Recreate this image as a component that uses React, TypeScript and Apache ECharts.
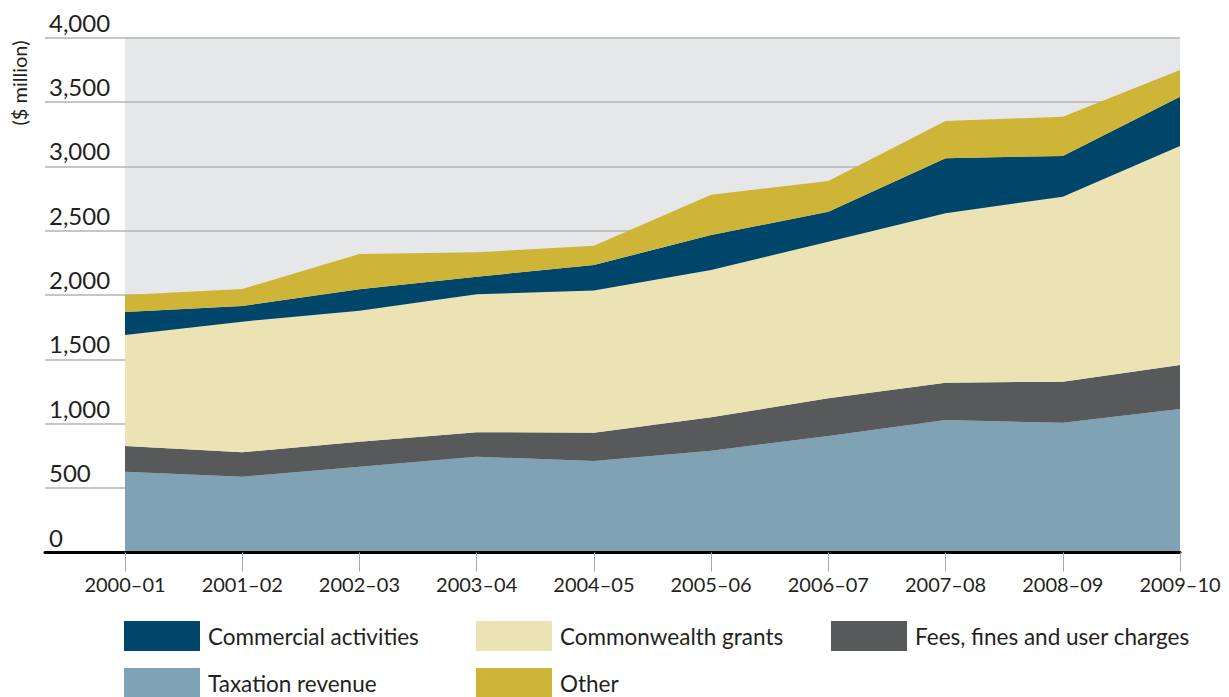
import React, { useEffect, useRef } from "react";
import * as echarts from "echarts";

const categories = ["2000–01", "2001–02", "2002–03", "2003–04", "2004–05", "2005–06", "2006–07", "2007–08", "2008–09", "2009–10"];
const taxation = [627, 589, 666, 744, 711, 791, 905, 1029, 1008, 1115];
const fees = [200, 189, 195, 190, 220, 259, 293, 290, 319, 341];
const grants = [862, 1015, 1017, 1071, 1103, 1144, 1216, 1316, 1437, 1701];
const commercial = [179, 122, 166, 137, 199, 272, 233, 427, 316, 383];
const other = [132, 132, 274, 190, 150, 313, 238, 289, 305, 208];
const yTicks = [0, 500, 1000, 1500, 2000, 2500, 3000, 3500, 4000];

const FONT = "Lato";
const TEXT = "#231f20";

export default function App() {
  const ref = useRef<HTMLDivElement>(null);
  useEffect(() => {
    if (!ref.current) return;
    const chart = echarts.init(ref.current, undefined, { renderer: "svg" });
    const top = 37.5;
    const bottom = 144.5;
    const yMin = yTicks[0];
    const yMax = yTicks[yTicks.length - 1];
    const yInt = yTicks[1] - yTicks[0];
    const mkSeries = (name: string, data: number[], color: string) => ({
      name,
      type: "line",
      stack: "total",
      data,
      symbol: "none",
      lineStyle: { width: 0 },
      areaStyle: { color, opacity: 1 },
      itemStyle: { color },
      xAxisIndex: 0,
      yAxisIndex: 0,
    });
    const legendItem = (name: string, left: number, topPos: number) => ({
      data: [name],
      left,
      top: topPos,
      icon: "rect",
      itemWidth: 76,
      itemHeight: 30,
      selectedMode: false,
      padding: 0,
      textStyle: { fontFamily: FONT, fontSize: 22.5, color: TEXT, padding: [0, 0, 0, 3] },
    });
    chart.setOption({
      animation: false,
      textStyle: { fontFamily: FONT },
      grid: [
        { left: 125, right: 49, top, bottom, show: true, backgroundColor: "#e6e7e9", borderWidth: 0 },
        { left: 45, width: 80, top, bottom, show: false },
      ],
      xAxis: [
        {
          type: "category",
          gridIndex: 0,
          data: categories,
          boundaryGap: false,
          axisLine: { show: true, lineStyle: { color: "#000", width: 3 } },
          axisTick: { show: true, length: 19, lineStyle: { color: "#a7a9ac", width: 1 } },
          axisLabel: { fontFamily: FONT, fontSize: 20, color: TEXT, margin: 21 },
          splitLine: { show: false },
          z: 5,
        },
        {
          type: "value",
          gridIndex: 1,
          min: 0,
          max: 1,
          axisLine: { show: true, onZero: false, lineStyle: { color: "#000", width: 3 } },
          axisTick: { show: false },
          axisLabel: { show: false },
          splitLine: { show: false },
          z: 5,
        },
      ],
      yAxis: [
        {
          type: "value",
          gridIndex: 0,
          min: yMin,
          max: yMax,
          interval: yInt,
          axisLine: { show: false },
          axisTick: { show: false },
          axisLabel: { show: false },
          splitLine: { show: true, lineStyle: { color: "#b1b3b6", width: 1.5 } },
        },
        {
          type: "value",
          gridIndex: 1,
          min: yMin,
          max: yMax,
          interval: yInt,
          axisLine: { show: false },
          axisTick: { show: false },
          axisLabel: {
            fontFamily: FONT,
            fontSize: 24,
            color: TEXT,
            align: "left",
            margin: -4,
            verticalAlign: "bottom",
            lineHeight: 31,
            formatter: (v: number) => v.toLocaleString("en-US"),
          },
          splitLine: { show: true, lineStyle: { color: "#b1b3b6", width: 1.5 } },
        },
      ],
      legend: [
        legendItem("Commercial activities", 124, 621),
        legendItem("Commonwealth grants", 476, 621),
        legendItem("Fees, fines and user charges", 831, 621),
        legendItem("Taxation revenue", 124, 668),
        legendItem("Other", 476, 668),
      ],
      graphic: [
        {
          type: "text",
          x: 19,
          y: 83,
          rotation: Math.PI / 2,
          style: {
            text: "($ million)",
            fontFamily: FONT,
            fontSize: 20,
            fill: TEXT,
            align: "center",
            verticalAlign: "middle",
          },
        },
      ],
      series: [
        mkSeries("Taxation revenue", taxation, "#7fa2b5"),
        mkSeries("Fees, fines and user charges", fees, "#58595b"),
        mkSeries("Commonwealth grants", grants, "#ece3b5"),
        mkSeries("Commercial activities", commercial, "#00456a"),
        mkSeries("Other", other, "#cfb537"),
      ],
    });
    return () => chart.dispose();
  }, []);
  return (
    <div
      ref={ref}
      style={{ position: "absolute", left: 0, top: 0, width: 1229, height: 697 }}
    />
  );
}
